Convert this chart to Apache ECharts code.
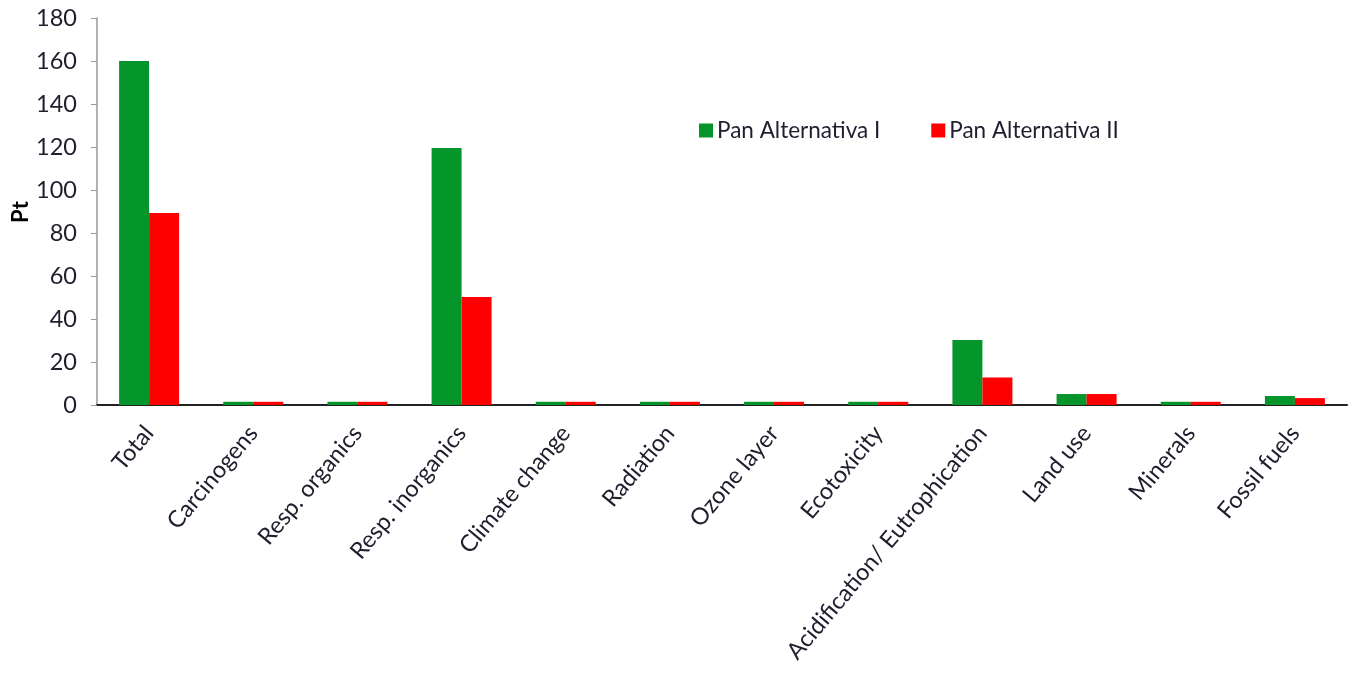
<!DOCTYPE html>
<html>
<head>
<meta charset="utf-8">
<script src="https://cdn.jsdelivr.net/npm/echarts@6/dist/echarts.min.js"></script>
<style>
  html, body { margin: 0; padding: 0; background: #fff; }
  #chart { width: 1351px; height: 674px; }
</style>
</head>
<body>
<div id="chart"></div>
<script>
// Impact categories and single-score results (Pt) for the two bread alternatives
const categories = ['Total', 'Carcinogens', 'Resp. organics', 'Resp. inorganics', 'Climate change',
  'Radiation', 'Ozone layer', 'Ecotoxicity', 'Acidification/ Eutrophication', 'Land use', 'Minerals', 'Fossil fuels'];
const altI = [160, 1.5, 1.5, 119.5, 1.5, 1.5, 1.5, 1.5, 30.2, 5.1, 1.5, 4.2];
const altII = [89.3, 1.5, 1.5, 50.2, 1.5, 1.5, 1.5, 1.5, 12.8, 5.1, 1.5, 3.2];
const yTicks = { min: 0, max: 180, interval: 20 };
const yTitle = 'Pt';

const font = 'Lato, "Open Sans", sans-serif';
const textColor = '#1e1e2e';

const chart = echarts.init(document.getElementById('chart'), null, { renderer: 'canvas' });
chart.setOption({
  animation: false,
  backgroundColor: '#fff',
  grid: { left: 97, right: 4, top: 18, bottom: 269, containLabel: false, outerBoundsMode: 'none' },
  legend: {
    left: 694, top: 114,
    itemWidth: 14, itemHeight: 14, itemGap: 51,
    icon: 'rect',
    textStyle: { fontFamily: font, fontSize: 22.5, color: textColor, padding: [0, 0, 0, -1] },
    data: ['Pan Alternativa I', 'Pan Alternativa II']
  },
  // vertical value-axis title
  graphic: [{
    type: 'text',
    x: 21, y: 212,
    rotation: Math.PI / 2,
    z: 10,
    style: {
      text: yTitle,
      fill: '#000',
      font: 'bold 22px Lato, "Open Sans", sans-serif',
      align: 'center',
      verticalAlign: 'middle'
    }
  }],
  xAxis: {
    type: 'category',
    data: categories,
    axisLine: { lineStyle: { color: '#222', width: 2 } },
    axisTick: { show: false },
    axisLabel: {
      interval: 0, rotate: 50, margin: 24,
      fontFamily: font, fontSize: 23.5, color: textColor
    }
  },
  yAxis: {
    type: 'value',
    min: yTicks.min, max: yTicks.max, interval: yTicks.interval,
    axisLine: { show: true, lineStyle: { color: '#999', width: 1.5 } },
    axisTick: { show: true, inside: false, length: 6, lineStyle: { color: '#999' } },
    splitLine: { show: false },
    axisLabel: { fontFamily: font, fontSize: 23.5, color: textColor, margin: 20 }
  },
  series: [
    {
      name: 'Pan Alternativa I', type: 'bar', data: altI,
      barWidth: 30, barGap: '0%',
      itemStyle: { color: '#05962b' }
    },
    {
      name: 'Pan Alternativa II', type: 'bar', data: altII,
      barWidth: 30, barGap: '0%',
      itemStyle: { color: '#ff0000' }
    }
  ]
});
</script>
</body>
</html>
